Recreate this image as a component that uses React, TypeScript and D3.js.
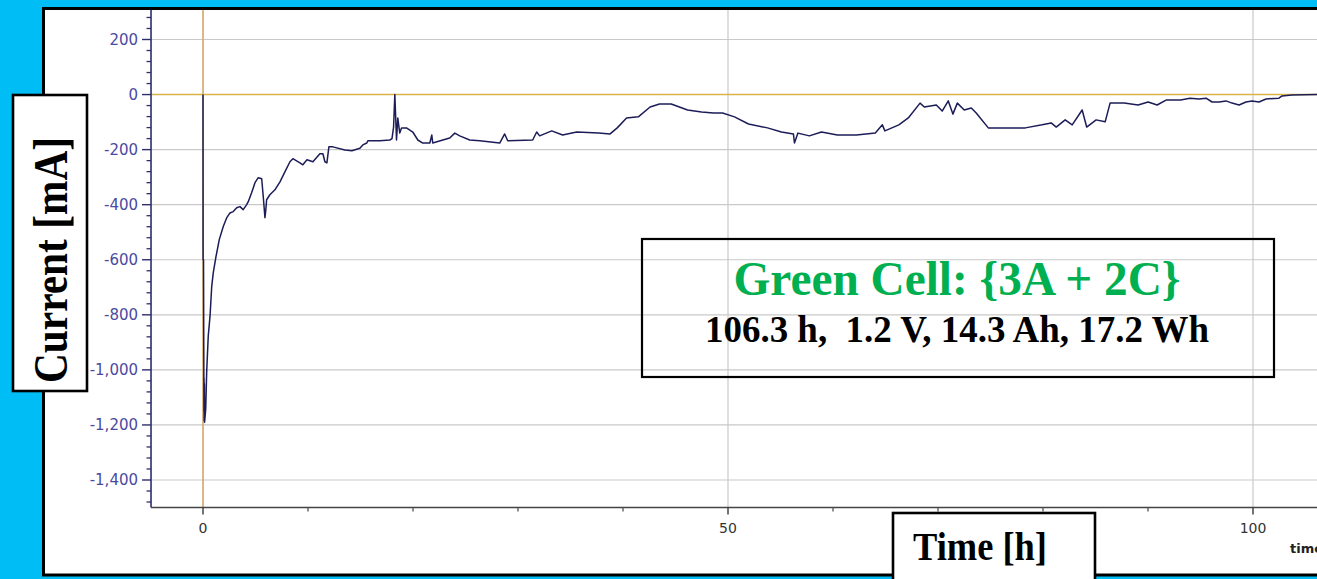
import React from 'react';
import * as d3 from 'd3';

// Time [h]
const hours = [
  0, 0.01, 0.05, 0.08, 0.09, 0.10, 0.11, 0.13, 0.15, 0.26, 0.35, 0.50, 0.67, 0.83, 0.98,
  1.24, 1.55, 1.93, 2.25, 2.57, 2.88, 3.21, 3.52, 3.83, 4.16, 4.31, 4.63, 4.95, 5.26, 5.59,
  5.74, 5.90, 5.98, 6.06, 6.37, 6.85, 7.33, 7.80, 8.28, 8.56, 9.23, 9.51, 9.90, 10.47, 11.13,
  11.42, 11.61, 11.80, 11.99, 12.37, 13.51, 14.18, 14.94, 15.22, 15.60, 15.70, 16.84, 17.79, 18.0,
  18.15, 18.27, 18.43, 18.55, 18.74, 18.91, 19.38, 19.98, 20.46, 20.93, 21.60, 21.79, 21.88, 22.84,
  23.50, 23.98, 24.45, 25.40, 26.36, 28.26, 28.73, 29.02, 31.40, 31.78, 32.06, 33.21, 34.25, 35.59,
  37.68, 38.77, 39.45, 40.34, 41.46, 42.58, 43.48, 44.59, 46.15, 47.48, 48.62, 49.48, 50.62, 51.95,
  53.76, 55.09, 56.23, 56.33, 56.66, 57.75, 58.90, 60.42, 62.23, 64.03, 64.70, 64.94, 66.27, 67.17,
  68.29, 68.70, 69.84, 70.40, 70.98, 71.42, 71.84, 72.50, 73.17, 73.64, 74.79, 76.12, 78.31, 79.92,
  80.78, 81.26, 82.11, 82.78, 83.73, 84.16, 85.06, 85.92, 86.39, 87.73, 89.06, 90.01, 90.87, 91.72,
  93.10, 94.00, 94.86, 95.53, 96.10, 96.77, 97.43, 98.00, 98.67, 99.33, 99.90, 100.57, 101.24, 102.47,
  102.76, 103.71, 106.3,
];

// Current [mA]
const current = [
  0, -600, -600, -1015, -1150, -1030, -1185, -1050, -1190, -1142, -1008, -877, -805, -697, -647,
  -588, -527, -479, -448, -430, -425, -411, -407, -418, -400, -389, -357, -320, -302, -306,
  -371, -447, -420, -382, -364, -346, -317, -281, -244, -233, -248, -255, -237, -244, -215,
  -215, -244, -248, -190, -190, -201, -204, -195, -183, -176, -168, -168, -165, -160,
  -118, 0, -165, -85, -140, -121, -121, -136, -165, -176, -176, -147, -176, -165,
  -158, -140, -150, -165, -168, -176, -143, -168, -165, -136, -150, -132, -147, -136,
  -140, -143, -121, -85, -81, -45, -34, -34, -56, -63, -67, -67, -81, -107,
  -121, -136, -143, -176, -140, -150, -136, -147, -147, -140, -110, -132, -110, -85,
  -31, -45, -38, -60, -23, -71, -31, -56, -49, -67, -121, -121, -121, -110,
  -103, -118, -92, -110, -56, -118, -92, -99, -31, -31, -38, -27, -38, -20,
  -20, -13, -16, -13, -27, -27, -23, -31, -38, -27, -23, -27, -16, -13,
  -5, -2, 0,
];

const yTicks = [200, 0, -200, -400, -600, -800, -1000, -1200, -1400];
const xTicks = [0, 50, 100];
const xMinorTicks = [10, 20, 30, 40, 60, 70, 80, 90, 110];
const cellTitle = 'Green Cell: {3A + 2C}';
const cellStats = '106.3 h,  1.2 V, 14.3 Ah, 17.2 Wh';
const yTitle = 'Current [mA]';
const xTitle = 'Time [h]';
const xAxisName = 'time [h]';

export default function App() {
  const W = 1317;
  const H = 579;
  const x = d3.scaleLinear().domain([0, 100]).range([203, 1253]);
  const y = d3.scaleLinear().domain([200, -1400]).range([39.5, 480]);
  const axisX = x(-4.95);
  const axisY = y(-1500);
  const top = 10;
  const right = W;

  const yMinor = d3.range(-1480, 321, 40).filter((v) => v % 200 !== 0);
  const line = d3
    .line<number>()
    .x((_, i) => x(hours[i]))
    .y((d) => y(d));
  const fmt = (v: number) => d3.format(',')(v).replace('\u2212', '-');
  const serif = "'Liberation Serif', 'Times New Roman', serif";
  const sans = "'DejaVu Sans', Verdana, sans-serif";

  return (
    <div style={{ position: 'fixed', left: 0, top: 0 }}>
      <svg width={W} height={H} style={{ display: 'block' }}>
        <rect x={0} y={0} width={W} height={H} fill="#00BEF5" />
        <rect x={43.5} y={8.5} width={1320} height={566.5} fill="#ffffff" stroke="#000" strokeWidth={3} />
        <defs>
          <clipPath id="plotclip">
            <rect x={45} y={10} width={W - 45} height={563} />
          </clipPath>
        </defs>
        <g clipPath="url(#plotclip)">
          {yTicks.filter((t) => t !== 0).map((t) => (
            <line key={'hg' + t} x1={axisX} x2={right} y1={y(t)} y2={y(t)} stroke="#c9c9c9" strokeWidth={1.2} />
          ))}
          {xTicks.filter((t) => t !== 0).map((t) => (
            <line key={'vg' + t} x1={x(t)} x2={x(t)} y1={top} y2={axisY} stroke="#c9c9c9" strokeWidth={1.2} />
          ))}
          <line x1={x(0)} x2={x(0)} y1={top} y2={axisY} stroke="#d2a868" strokeWidth={1.6} />
          <line x1={axisX} x2={right} y1={y(0)} y2={y(0)} stroke="#d9b548" strokeWidth={1.6} />

          <path d={line(current) || ''} fill="none" stroke="#1c1c58" strokeWidth={1.5} strokeLinejoin="round" />

          <line x1={axisX} x2={axisX} y1={top} y2={axisY} stroke="#2e2e6e" strokeWidth={1.6} />
          {yTicks.map((t) => (
            <line key={'yt' + t} x1={axisX - 9} x2={axisX} y1={y(t)} y2={y(t)} stroke="#2e2e6e" strokeWidth={1.4} />
          ))}
          {yMinor.map((t) => (
            <line key={'ym' + t} x1={axisX - 4.5} x2={axisX} y1={y(t)} y2={y(t)} stroke="#2e2e6e" strokeWidth={1.3} />
          ))}
          {yTicks.map((t) => (
            <text key={'yl' + t} x={axisX - 13} y={y(t)} dy="0.36em" textAnchor="end" fontFamily={sans} fontSize={15} fill="#4a4aa0">
              {fmt(t)}
            </text>
          ))}

          <line x1={axisX} x2={right} y1={axisY} y2={axisY} stroke="#444" strokeWidth={1.6} />
          {xTicks.map((t) => (
            <line key={'xt' + t} x1={x(t)} x2={x(t)} y1={axisY} y2={axisY + 7} stroke="#444" strokeWidth={1.5} />
          ))}
          {xMinorTicks.map((t) => (
            <line key={'xm' + t} x1={x(t)} x2={x(t)} y1={axisY} y2={axisY + 4} stroke="#555" strokeWidth={1.3} />
          ))}
          {xTicks.map((t) => (
            <text key={'xl' + t} x={x(t)} y={axisY + 25} textAnchor="middle" fontFamily={sans} fontSize={14} fill="#333">
              {t}
            </text>
          ))}
          <text x={1290} y={553} fontFamily={sans} fontSize={13} fontWeight="bold" fill="#222">
            {xAxisName}
          </text>
        </g>

        <rect x={642} y={239} width={632} height={138} fill="none" stroke="#000" strokeWidth={2.2} />
        <text x={957} y={295} textAnchor="middle" fontFamily={serif} fontWeight="bold" fontSize={48} fill="#00B050" textLength={447} lengthAdjust="spacingAndGlyphs">
          {cellTitle}
        </text>
        <text x={957} y={342} textAnchor="middle" fontFamily={serif} fontWeight="bold" fontSize={38} fill="#000" textLength={504} lengthAdjust="spacingAndGlyphs" style={{ whiteSpace: 'pre' }}>
          {cellStats}
        </text>

        <rect x={13} y={95} width={74} height={296} fill="#fff" stroke="#000" strokeWidth={2.6} />
        <text x={0} y={0} transform="translate(67,260) rotate(-90)" textAnchor="middle" fontFamily={serif} fontWeight="bold" fontSize={48} fill="#000" textLength={246} lengthAdjust="spacingAndGlyphs">
          {yTitle}
        </text>

        <rect x={893} y={513} width={202} height={80} fill="#fff" stroke="#000" strokeWidth={2.6} />
        <text x={980} y={560} textAnchor="middle" fontFamily={serif} fontWeight="bold" fontSize={40} fill="#000" textLength={134} lengthAdjust="spacingAndGlyphs">
          {xTitle}
        </text>
      </svg>
    </div>
  );
}
